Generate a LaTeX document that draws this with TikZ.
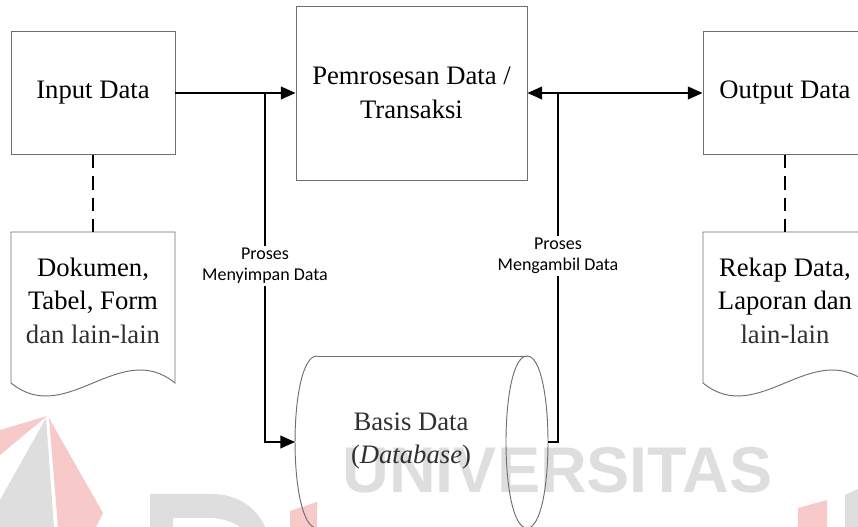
\documentclass[tikz,border=0pt]{standalone}
\usepackage{fontspec}
\setmainfont{Liberation Serif}
\newfontfamily\labelfont{Carlito}
\newfontfamily\markfont{Liberation Sans}
\usetikzlibrary{arrows.meta}

\definecolor{boxline}{HTML}{6E6E6E}
\definecolor{markgray}{HTML}{DEDEDE}
\definecolor{markpink}{HTML}{F7C9C9}
\definecolor{softtext}{HTML}{303030}

\tikzset{
  procbox/.style={draw=boxline, line width=0.7pt, inner sep=0pt, align=center,
                  font=\fontsize{20}{25.5}\selectfont},
  bigtext/.style={align=center, inner sep=0pt, font=\fontsize{20}{25.2}\selectfont},
  shapeline/.style={draw=boxline, line width=0.7pt},
  flow/.style={draw=black, line width=1.4pt},
  flowarrow/.style={flow, -{Triangle[length=11pt,width=9.5pt]}},
  link/.style={draw=black, line width=1.2pt, dash pattern=on 10pt off 6pt},
  flowlabel/.style={fill=white, align=center, inner sep=1.5pt,
                    font=\labelfont\fontsize{13.5}{16}\selectfont},
  markpiece/.style={fill=markpink, draw=none},
  markdark/.style={fill=markgray, draw=none},
}

\begin{document}
\begin{tikzpicture}[x=0.75pt, y=-0.75pt]
  \useasboundingbox (0,0) rectangle (858,527);
  \clip (0,0) rectangle (858,527);

  % background logo pieces and lettering
  \fill[markpiece] (0,430) -- (47,416) -- (0,455) -- cycle;
  \fill[markdark]  (46,418) -- (0,500) -- (0,527) -- (54,527) -- cycle;
  \fill[markpiece] (49,418) -- (103,513) -- (96,527) -- (58,527) -- cycle;
  \fill[markdark]  (150,527) -- (150,494) -- (212,494)
        .. controls (240,494) and (258,510) .. (265,527) -- (240,527)
        .. controls (233,522) and (222,518) .. (210,518) -- (173,518) -- (173,527) -- cycle;
  \fill[markpiece] (290,511) -- (317,502) -- (317,527) -- (290,527) -- cycle;
  \fill[markpiece] (798,508) -- (827,500) -- (827,527) -- (798,527) -- cycle;
  \fill[markdark]  (845,495) -- (858,489) -- (858,527) -- (845,527) -- cycle;
  \node[font=\markfont\bfseries\fontsize{48.5}{48.5}\selectfont, text=markgray,
        anchor=base, inner sep=0pt] (mark) at (557.5,493) {UNIVERSITAS};

  % process boxes
  \node[procbox, minimum width=123pt, minimum height=92.25pt] (inp) at (93,93) {Input Data};
  \node[procbox, minimum width=173.25pt, minimum height=130.5pt] (proc) at (411.5,93)
        {Pemrosesan Data /\\Transaksi};
  \node[procbox, minimum width=123pt, minimum height=92.25pt] (out) at (785,93) {Output Data};

  % document shapes
  \draw[shapeline] (11,232) -- (175,232) -- (175,383)
        .. controls (120,338) and (66,428) .. (11,383) -- cycle;
  \coordinate (d1top) at (93,232);
  \node[bigtext] (doc1) at (93,300.5)
        {Dokumen,\\Tabel, Form\\\textcolor{softtext}{dan lain-lain}};

  \draw[shapeline] (703,232) -- (867,232) -- (867,383)
        .. controls (812,338) and (758,428) .. (703,383) -- cycle;
  \coordinate (d2top) at (785,232);
  \node[bigtext] (doc2) at (785,300.5)
        {Rekap Data,\\Laporan dan\\\textcolor{softtext}{lain-lain}};

  \draw[link] (inp.south) -- (d1top);
  \draw[link] (out.south) -- (d2top);

  % database (horizontal cylinder)
  \draw[shapeline] (317,356) -- (527,356);
  \draw[shapeline] (317,528) -- (527,528);
  \draw[shapeline] (317,356) .. controls (287.7,356) and (287.7,528) .. (317,528);
  \draw[shapeline] (527,356) .. controls (499,356) and (499,528) .. (527,528);
  \draw[shapeline] (527,356) .. controls (555,356) and (555,528) .. (527,528);
  \coordinate (dbL) at (295,442);
  \coordinate (dbR) at (548,442);
  \node[bigtext, text=softtext] (db) at (411,441)
        {Basis Data\\(\textit{Database})};

  % data flow
  \coordinate (j1) at (265,93);
  \coordinate (j2) at (558,93);
  \draw[flowarrow] (inp.east) -- (proc.west);
  \draw[flowarrow] (j1) |- (dbL);
  \draw[flow] (dbR) -| (j2);
  \draw[flowarrow] (j2) -- (proc.east);
  \draw[flowarrow] (j2) -- (out.west);

  \node[flowlabel] (save) at (265,266) {Proses\\Menyimpan Data};
  \node[flowlabel] (load) at (558,256) {Proses\\Mengambil Data};
\end{tikzpicture}
\end{document}
